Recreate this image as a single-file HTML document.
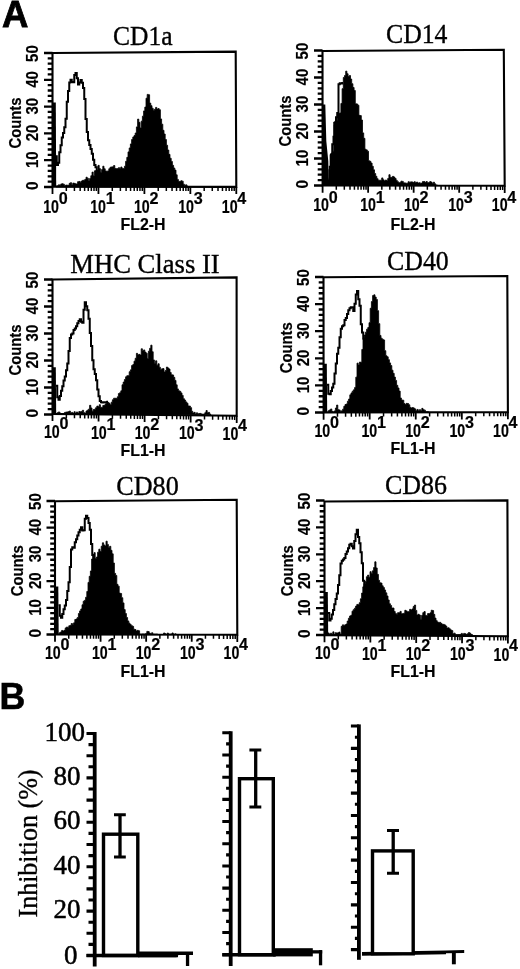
<!DOCTYPE html>
<html lang="en"><head><meta charset="utf-8"><title>Figure</title>
<style>html,body{margin:0;padding:0;background:#fff}svg{display:block}text{fill:#000}.ser{stroke:#000;stroke-width:0.35px}.ser{font-family:"Liberation Serif", "Times New Roman", Times, serif}.san{font-family:"Liberation Sans", Arial, Helvetica, sans-serif}.sb{font-family:"Liberation Sans", Arial, Helvetica, sans-serif;font-weight:bold}.lb{font-family:"Liberation Sans", Arial, Helvetica, sans-serif;font-weight:bold;stroke:#000;stroke-width:0.2px}</style></head><body>
<svg width="520" height="969" viewBox="0 0 520 969">
<rect width="520" height="969" fill="#fff"/>
<text class="sb" x="1.9" y="27.3" font-size="36.6" textLength="26.4" lengthAdjust="spacingAndGlyphs" stroke="#000" stroke-width="0.8">A</text>
<text class="sb" x="-0.6" y="708.8" font-size="36.2" textLength="25.8" lengthAdjust="spacingAndGlyphs" stroke="#000" stroke-width="0.6">B</text>
<g>
<text class="ser" x="113" y="45" font-size="26.5" textLength="59.5" lengthAdjust="spacingAndGlyphs">CD1a</text>
<path d="M56 187L56 186.02L57.2 186.02L57.2 185.75L58.4 185.75L58.4 184.83L59.6 184.83L59.6 185.23L60.8 185.23L60.8 183.96L62 183.96L62 183.76L63.2 183.76L63.2 184.23L64.4 184.23L64.4 185.67L65.6 185.67L65.6 185.06L66.8 185.06L66.8 185.23L68 185.23L68 185.3L69.2 185.3L69.2 183.35L70.4 183.35L70.4 182.69L71.6 182.69L71.6 184.85L72.8 184.85L72.8 183.11L74 183.11L74 183.33L75.2 183.33L75.2 183.84L76.4 183.84L76.4 184.1L77.6 184.1L77.6 181.67L78.8 181.67L78.8 181.44L80 181.44L80 182.13L81.2 182.13L81.2 181.09L82.4 181.09L82.4 180.34L83.6 180.34L83.6 180.18L84.8 180.18L84.8 179.46L86 179.46L86 177.23L87.2 177.23L87.2 178.22L88.4 178.22L88.4 181.05L89.6 181.05L89.6 178.48L90.8 178.48L90.8 175.73L92 175.73L92 172.12L93.2 172.12L93.2 175.63L94.4 175.63L94.4 170.81L95.6 170.81L95.6 170.42L96.8 170.42L96.8 170.64L98 170.64L98 165.35L99.2 165.35L99.2 168.6L100.4 168.6L100.4 173.04L101.6 173.04L101.6 169.51L102.8 169.51L102.8 166.22L104 166.22L104 168.75L105.2 168.75L105.2 170.95L106.4 170.95L106.4 171.21L107.6 171.21L107.6 170.92L108.8 170.92L108.8 168.76L110 168.76L110 167.24L111.2 167.24L111.2 166.94L112.4 166.94L112.4 166.8L113.6 166.8L113.6 165.55L114.8 165.55L114.8 168.59L116 168.59L116 168.63L117.2 168.63L117.2 168.57L118.4 168.57L118.4 167.65L119.6 167.65L119.6 168.45L120.8 168.45L120.8 166.99L122 166.99L122 168.43L123.2 168.43L123.2 168.54L124.4 168.54L124.4 166.22L125.6 166.22L125.6 161.3L126.8 161.3L126.8 157.36L128 157.36L128 151.88L129.2 151.88L129.2 147.96L130.4 147.96L130.4 143.93L131.6 143.93L131.6 139.49L132.8 139.49L132.8 136.98L134 136.98L134 135.57L135.2 135.57L135.2 133L136.4 133L136.4 126.89L137.6 126.89L137.6 119.11L138.8 119.11L138.8 122.33L140 122.33L140 127.99L141.2 127.99L141.2 121.16L142.4 121.16L142.4 116.15L143.6 116.15L143.6 110.9L144.8 110.9L144.8 107.12L146 107.12L146 98.23L147.2 98.23L147.2 94.38L148.4 94.38L148.4 94.72L149.6 94.72L149.6 103.12L150.8 103.12L150.8 105.68L152 105.68L152 108.27L153.2 108.27L153.2 110.18L154.4 110.18L154.4 109.31L155.6 109.31L155.6 107.41L156.8 107.41L156.8 109.11L158 109.11L158 108.62L159.2 108.62L159.2 109.71L160.4 109.71L160.4 118.94L161.6 118.94L161.6 124.16L162.8 124.16L162.8 130.32L164 130.32L164 134.04L165.2 134.04L165.2 139.5L166.4 139.5L166.4 145.22L167.6 145.22L167.6 150.02L168.8 150.02L168.8 154.36L170 154.36L170 158.28L171.2 158.28L171.2 161.45L172.4 161.45L172.4 165.33L173.6 165.33L173.6 168.01L174.8 168.01L174.8 170.12L176 170.12L176 174.82L177.2 174.82L177.2 179.42L178.4 179.42L178.4 181.31L179.6 181.31L179.6 181.59L180.8 181.59L180.8 180.75L182 180.75L182 181.15L183.2 181.15L183.2 184.16L184.4 184.16L184.4 185.44L185.6 185.44L185.6 184.82L186.8 184.82L186.8 186.12L188 186.12L188 186.6L189.2 186.6L189.2 187L190 187L190 187 Z" fill="#000" stroke="#000" stroke-width="0.8" stroke-linejoin="miter"/>
<path d="M55.5 156.25L55.5 156.25L56.75 156.25L56.75 165.07L58 165.07L58 162.65L59.25 162.65L59.25 152.32L60.5 152.32L60.5 145.2L61.75 145.2L61.75 137.48L63 137.48L63 132.89L64.25 132.89L64.25 127.22L65.5 127.22L65.5 118.78L66.75 118.78L66.75 101.72L68 101.72L68 90.91L69.25 90.91L69.25 82.38L70.5 82.38L70.5 79.74L71.75 79.74L71.75 81.88L73 81.88L73 82.19L74.25 82.19L74.25 75.1L75.5 75.1L75.5 72.94L76.75 72.94L76.75 78.36L78 78.36L78 84.49L79.25 84.49L79.25 82.56L80.5 82.56L80.5 80.1L81.75 80.1L81.75 82.82L83 82.82L83 88.03L84.25 88.03L84.25 99.06L85.5 99.06L85.5 119.09L86.75 119.09L86.75 132.12L88 132.12L88 140.19L89.25 140.19L89.25 145.08L90.5 145.08L90.5 149.01L91.75 149.01L91.75 153.76L93 153.76L93 159.68L94.25 159.68L94.25 164.92L95.5 164.92L95.5 167.37L96.75 167.37L96.75 170.7L98 170.7L98 172.14L99.25 172.14L99.25 173.4L100.5 173.4L100.5 174.5L101.75 174.5L101.75 175.42L103 175.42L103 175.75L104.25 175.75L104.25 176.33L105.5 176.33L105.5 176.39L106.75 176.39L106.75 176.57L108 176.57" fill="none" stroke="#000" stroke-width="2" stroke-linejoin="miter"/>
<path d="M52.5 102.58 L55.8 102.58 L56.2 187 L52.5 187 Z" fill="#000"/>
<path d="M52.5 53L235.7 51.6L236.3 186.9L52.5 186.7Z" fill="none" stroke="#000" stroke-width="2.1" stroke-linejoin="miter"/>
<path d="M44 187H52.5M47.7 181.64H52.5M47.7 176.28H52.5M47.7 170.92H52.5M47.7 165.56H52.5M44 160.2H52.5M47.7 154.84H52.5M47.7 149.48H52.5M47.7 144.12H52.5M47.7 138.76H52.5M44 133.4H52.5M47.7 128.04H52.5M47.7 122.68H52.5M47.7 117.32H52.5M47.7 111.96H52.5M44 106.6H52.5M47.7 101.24H52.5M47.7 95.88H52.5M47.7 90.52H52.5M47.7 85.16H52.5M44 79.8H52.5M47.7 74.44H52.5M47.7 69.08H52.5M47.7 63.72H52.5M47.7 58.36H52.5M44 53H52.5" stroke="#000" stroke-width="2.3" fill="none"/>
<path d="M66.33 186.72V190.92M74.42 186.72V190.92M80.16 186.73V190.93M84.62 186.73V190.93M88.26 186.74V190.94M91.33 186.74V190.94M94 186.75V190.95M96.35 186.75V190.95M112.28 186.77V190.97M120.37 186.77V190.97M126.11 186.78V190.98M130.57 186.78V190.98M134.21 186.79V190.99M137.28 186.79V190.99M139.95 186.8V191M142.3 186.8V191M158.23 186.82V191.02M166.32 186.82V191.02M172.06 186.83V191.03M176.52 186.83V191.03M180.16 186.84V191.04M183.23 186.84V191.04M185.9 186.85V191.05M188.25 186.85V191.05M204.18 186.87V191.07M212.27 186.87V191.07M218.01 186.88V191.08M222.47 186.88V191.08M226.11 186.89V191.09M229.18 186.89V191.09M231.85 186.9V191.1M234.2 186.9V191.1" stroke="#000" stroke-width="1.5" fill="none"/>
<path d="M52.5 186.7V193.9M98.45 186.75V193.95M144.4 186.8V194M190.35 186.85V194.05M236.3 186.9V194.1" stroke="#000" stroke-width="1.8" fill="none"/>
<text class="lb" transform="translate(38.4 185.6) rotate(-90)" font-size="16" text-anchor="middle" textLength="8.6" lengthAdjust="spacingAndGlyphs" x="0" y="0">0</text>
<text class="lb" transform="translate(38.4 159.8) rotate(-90)" font-size="16" text-anchor="middle" textLength="16.6" lengthAdjust="spacingAndGlyphs" x="0" y="0">10</text>
<text class="lb" transform="translate(38.4 133) rotate(-90)" font-size="16" text-anchor="middle" textLength="16.6" lengthAdjust="spacingAndGlyphs" x="0" y="0">20</text>
<text class="lb" transform="translate(38.4 106.2) rotate(-90)" font-size="16" text-anchor="middle" textLength="16.6" lengthAdjust="spacingAndGlyphs" x="0" y="0">30</text>
<text class="lb" transform="translate(38.4 79.4) rotate(-90)" font-size="16" text-anchor="middle" textLength="16.6" lengthAdjust="spacingAndGlyphs" x="0" y="0">40</text>
<text class="lb" transform="translate(38.4 53.6) rotate(-90)" font-size="16" text-anchor="middle" textLength="16.6" lengthAdjust="spacingAndGlyphs" x="0" y="0">50</text>
<text class="lb" transform="translate(20.9 123) rotate(-90)" font-size="16.6" text-anchor="middle" textLength="51" lengthAdjust="spacingAndGlyphs" x="0" y="0">Counts</text>
<text class="lb" x="43.15" y="212.9" font-size="17.5" textLength="15.8" lengthAdjust="spacingAndGlyphs">10</text>
<text class="lb" x="58.65" y="204.1" font-size="17" textLength="9" lengthAdjust="spacingAndGlyphs">0</text>
<text class="lb" x="90.15" y="212.95" font-size="17.5" textLength="15.8" lengthAdjust="spacingAndGlyphs">10</text>
<text class="lb" x="105.65" y="204.15" font-size="17" textLength="9" lengthAdjust="spacingAndGlyphs">1</text>
<text class="lb" x="133.9" y="213" font-size="17.5" textLength="15.8" lengthAdjust="spacingAndGlyphs">10</text>
<text class="lb" x="149.4" y="204.2" font-size="17" textLength="9" lengthAdjust="spacingAndGlyphs">2</text>
<text class="lb" x="178.15" y="213.05" font-size="17.5" textLength="15.8" lengthAdjust="spacingAndGlyphs">10</text>
<text class="lb" x="193.65" y="204.25" font-size="17" textLength="9" lengthAdjust="spacingAndGlyphs">3</text>
<text class="lb" x="221.75" y="213.09" font-size="17.5" textLength="15.8" lengthAdjust="spacingAndGlyphs">10</text>
<text class="lb" x="237.25" y="204.29" font-size="17" textLength="9" lengthAdjust="spacingAndGlyphs">4</text>
<text class="lb" x="120.6" y="229.8" font-size="17" textLength="45" lengthAdjust="spacingAndGlyphs">FL2-H</text>
</g>
<g>
<text class="ser" x="386" y="43" font-size="26.5" textLength="61.5" lengthAdjust="spacingAndGlyphs">CD14</text>
<path d="M326.5 185.5L326.5 183.9L327.7 183.9L327.7 179.75L328.9 179.75L328.9 169.4L330.1 169.4L330.1 154.5L331.3 154.5L331.3 153L332.5 153L332.5 151.27L333.7 151.27L333.7 122.06L334.9 122.06L334.9 120.97L336.1 120.97L336.1 120.13L337.3 120.13L337.3 113.16L338.5 113.16L338.5 113.56L339.7 113.56L339.7 112.88L340.9 112.88L340.9 103.45L342.1 103.45L342.1 88.65L343.3 88.65L343.3 77.44L344.5 77.44L344.5 75.51L345.7 75.51L345.7 71.15L346.9 71.15L346.9 73.71L348.1 73.71L348.1 76.52L349.3 76.52L349.3 75.57L350.5 75.57L350.5 79.04L351.7 79.04L351.7 83.71L352.9 83.71L352.9 87.5L354.1 87.5L354.1 90.51L355.3 90.51L355.3 103.74L356.5 103.74L356.5 103.97L357.7 103.97L357.7 105.23L358.9 105.23L358.9 115.35L360.1 115.35L360.1 115.6L361.3 115.6L361.3 120.03L362.5 120.03L362.5 132.89L363.7 132.89L363.7 138.32L364.9 138.32L364.9 149.22L366.1 149.22L366.1 149.89L367.3 149.89L367.3 151.22L368.5 151.22L368.5 160.76L369.7 160.76L369.7 161.34L370.9 161.34L370.9 163.05L372.1 163.05L372.1 166.3L373.3 166.3L373.3 169.82L374.5 169.82L374.5 173.56L375.7 173.56L375.7 176.31L376.9 176.31L376.9 178.66L378.1 178.66L378.1 180.31L379.3 180.31L379.3 180.15L380.5 180.15L380.5 180.25L381.7 180.25L381.7 177.91L382.9 177.91L382.9 179.8L384.1 179.8L384.1 180.89L385.3 180.89L385.3 180L386.5 180L386.5 180.86L387.7 180.86L387.7 178.47L388.9 178.47L388.9 174.69L390.1 174.69L390.1 177.32L391.3 177.32L391.3 177.32L392.5 177.32L392.5 176.37L393.7 176.37L393.7 177.09L394.9 177.09L394.9 178.51L396.1 178.51L396.1 180.4L397.3 180.4L397.3 181.73L398.5 181.73L398.5 182.68L399.7 182.68L399.7 182.48L400.9 182.48L400.9 181.16L402.1 181.16L402.1 181.39L403.3 181.39L403.3 182.82L404.5 182.82L404.5 182.9L405.7 182.9L405.7 183.24L406.9 183.24L406.9 183.28L408.1 183.28L408.1 181.68L409.3 181.68L409.3 182.57L410.5 182.57L410.5 181.87L411.7 181.87L411.7 181.93L412.9 181.93L412.9 182.6L414.1 182.6L414.1 181.69L415.3 181.69L415.3 182.84L416.5 182.84L416.5 182.09L417.7 182.09L417.7 183.12L418.9 183.12L418.9 182.77L420.1 182.77L420.1 183.14L421.3 183.14L421.3 183.05L422.5 183.05L422.5 181.55L423.7 181.55L423.7 181.57L424.9 181.57L424.9 182.58L426.1 182.58L426.1 181.55L427.3 181.55L427.3 182.71L428.5 182.71L428.5 182.54L429.7 182.54L429.7 181.59L430.9 181.59L430.9 182.1L432.1 182.1L432.1 183.54L433.3 183.54L433.3 182.19L434.5 182.19L434.5 183.81L435.7 183.81L435.7 185.03L436.9 185.03L436.9 185.05L437.5 185.05L437.5 185.5 Z" fill="#000" stroke="#000" stroke-width="0.8" stroke-linejoin="miter"/>
<path d="M328.5 178.66L328.5 178.66L329.75 178.66L329.75 166.67L331 166.67L331 154.42L332.25 154.42L332.25 144.26L333.5 144.26L333.5 136.73L334.75 136.73L334.75 126.12L336 126.12L336 117.17L337.25 117.17L337.25 113.01L338.5 113.01L338.5 84.37L339.75 84.37L339.75 83.35L341 83.35L341 83.59L342.25 83.59L342.25 82.93L343 82.93" fill="none" stroke="#000" stroke-width="2" stroke-linejoin="miter"/>
<path d="M322.5 104.5 L325.3 104.5 L326.3 140.95 L328.3 161.2 L328.7 185.5 L322.5 185.5 Z" fill="#000"/>
<path d="M322.5 51L503.8 49.8L504.7 185.7L322.6 185.5Z" fill="none" stroke="#000" stroke-width="2.1" stroke-linejoin="miter"/>
<path d="M314 185.5H322.5M317.7 180.1H322.5M317.7 174.7H322.5M317.7 169.3H322.5M317.7 163.9H322.5M314 158.5H322.5M317.7 153.1H322.5M317.7 147.7H322.5M317.7 142.3H322.5M317.7 136.9H322.5M314 131.5H322.5M317.7 126.1H322.5M317.7 120.7H322.5M317.7 115.3H322.5M317.7 109.9H322.5M314 104.5H322.5M317.7 99.1H322.5M317.7 93.7H322.5M317.7 88.3H322.5M317.7 82.9H322.5M314 77.5H322.5M317.7 72.1H322.5M317.7 66.7H322.5M317.7 61.3H322.5M317.7 55.9H322.5M314 50.5H322.5" stroke="#000" stroke-width="2.3" fill="none"/>
<path d="M336.3 185.52V189.72M344.32 185.52V189.72M350.01 185.53V189.73M354.42 185.53V189.73M358.03 185.54V189.74M361.07 185.54V189.74M363.71 185.55V189.75M366.04 185.55V189.75M381.83 185.57V189.77M389.85 185.57V189.77M395.53 185.58V189.78M399.95 185.58V189.78M403.55 185.59V189.79M406.6 185.59V189.79M409.24 185.6V189.8M411.57 185.6V189.8M427.35 185.62V189.82M435.37 185.62V189.82M441.06 185.63V189.83M445.47 185.63V189.83M449.08 185.64V189.84M452.12 185.64V189.84M454.76 185.65V189.85M457.09 185.65V189.85M472.88 185.67V189.87M480.9 185.67V189.87M486.58 185.68V189.88M491 185.68V189.88M494.6 185.69V189.89M497.65 185.69V189.89M500.29 185.7V189.9M502.62 185.7V189.9" stroke="#000" stroke-width="1.5" fill="none"/>
<path d="M322.6 185.5V192.7M368.12 185.55V192.75M413.65 185.6V192.8M459.18 185.65V192.85M504.7 185.7V192.9" stroke="#000" stroke-width="1.8" fill="none"/>
<text class="lb" transform="translate(308.4 184.1) rotate(-90)" font-size="16" text-anchor="middle" textLength="8.6" lengthAdjust="spacingAndGlyphs" x="0" y="0">0</text>
<text class="lb" transform="translate(308.4 158.1) rotate(-90)" font-size="16" text-anchor="middle" textLength="16.6" lengthAdjust="spacingAndGlyphs" x="0" y="0">10</text>
<text class="lb" transform="translate(308.4 131.1) rotate(-90)" font-size="16" text-anchor="middle" textLength="16.6" lengthAdjust="spacingAndGlyphs" x="0" y="0">20</text>
<text class="lb" transform="translate(308.4 104.1) rotate(-90)" font-size="16" text-anchor="middle" textLength="16.6" lengthAdjust="spacingAndGlyphs" x="0" y="0">30</text>
<text class="lb" transform="translate(308.4 77.1) rotate(-90)" font-size="16" text-anchor="middle" textLength="16.6" lengthAdjust="spacingAndGlyphs" x="0" y="0">40</text>
<text class="lb" transform="translate(308.4 51.1) rotate(-90)" font-size="16" text-anchor="middle" textLength="16.6" lengthAdjust="spacingAndGlyphs" x="0" y="0">50</text>
<text class="lb" transform="translate(290.9 121) rotate(-90)" font-size="16.6" text-anchor="middle" textLength="51" lengthAdjust="spacingAndGlyphs" x="0" y="0">Counts</text>
<text class="lb" x="313.15" y="210.7" font-size="17.5" textLength="15.8" lengthAdjust="spacingAndGlyphs">10</text>
<text class="lb" x="328.65" y="202.8" font-size="17" textLength="9" lengthAdjust="spacingAndGlyphs">0</text>
<text class="lb" x="360.15" y="210.75" font-size="17.5" textLength="15.8" lengthAdjust="spacingAndGlyphs">10</text>
<text class="lb" x="375.65" y="202.85" font-size="17" textLength="9" lengthAdjust="spacingAndGlyphs">1</text>
<text class="lb" x="403.9" y="210.8" font-size="17.5" textLength="15.8" lengthAdjust="spacingAndGlyphs">10</text>
<text class="lb" x="419.4" y="202.9" font-size="17" textLength="9" lengthAdjust="spacingAndGlyphs">2</text>
<text class="lb" x="448.15" y="210.85" font-size="17.5" textLength="15.8" lengthAdjust="spacingAndGlyphs">10</text>
<text class="lb" x="463.65" y="202.95" font-size="17" textLength="9" lengthAdjust="spacingAndGlyphs">3</text>
<text class="lb" x="491.75" y="210.9" font-size="17.5" textLength="15.8" lengthAdjust="spacingAndGlyphs">10</text>
<text class="lb" x="507.25" y="203" font-size="17" textLength="9" lengthAdjust="spacingAndGlyphs">4</text>
<text class="lb" x="390.6" y="229.6" font-size="17" textLength="45" lengthAdjust="spacingAndGlyphs">FL2-H</text>
</g>
<g>
<text class="ser" x="70.3" y="273.4" font-size="26.5" textLength="149.4" lengthAdjust="spacingAndGlyphs">MHC Class II</text>
<path d="M56 414.5L56 413.77L57.2 413.77L57.2 412.66L58.4 412.66L58.4 411.93L59.6 411.93L59.6 412.99L60.8 412.99L60.8 414.1L62 414.1L62 413.65L63.2 413.65L63.2 414.1L64.4 414.1L64.4 412.43L65.6 412.43L65.6 412.07L66.8 412.07L66.8 411.94L68 411.94L68 411.71L69.2 411.71L69.2 411.05L70.4 411.05L70.4 412.67L71.6 412.67L71.6 412.41L72.8 412.41L72.8 413.39L74 413.39L74 411.69L75.2 411.69L75.2 414.03L76.4 414.03L76.4 411.96L77.6 411.96L77.6 413.35L78.8 413.35L78.8 411.55L80 411.55L80 411.87L81.2 411.87L81.2 411.42L82.4 411.42L82.4 410.29L83.6 410.29L83.6 412.64L84.8 412.64L84.8 413.19L86 413.19L86 411.03L87.2 411.03L87.2 410.2L88.4 410.2L88.4 409.14L89.6 409.14L89.6 405.32L90.8 405.32L90.8 407.98L92 407.98L92 411.21L93.2 411.21L93.2 409.58L94.4 409.58L94.4 409.13L95.6 409.13L95.6 407.67L96.8 407.67L96.8 406.1L98 406.1L98 406.63L99.2 406.63L99.2 404.72L100.4 404.72L100.4 407.22L101.6 407.22L101.6 407.55L102.8 407.55L102.8 405.45L104 405.45L104 405.35L105.2 405.35L105.2 403.86L106.4 403.86L106.4 401.78L107.6 401.78L107.6 402.47L108.8 402.47L108.8 403.24L110 403.24L110 404.77L111.2 404.77L111.2 402.2L112.4 402.2L112.4 399.75L113.6 399.75L113.6 398.21L114.8 398.21L114.8 398.26L116 398.26L116 398.52L117.2 398.52L117.2 396.84L118.4 396.84L118.4 393.54L119.6 393.54L119.6 392.74L120.8 392.74L120.8 390.82L122 390.82L122 384.78L123.2 384.78L123.2 382.05L124.4 382.05L124.4 379.47L125.6 379.47L125.6 376.81L126.8 376.81L126.8 375.7L128 375.7L128 375.69L129.2 375.69L129.2 371.7L130.4 371.7L130.4 369.85L131.6 369.85L131.6 365.53L132.8 365.53L132.8 364.55L134 364.55L134 361.16L135.2 361.16L135.2 358.25L136.4 358.25L136.4 353.35L137.6 353.35L137.6 354.82L138.8 354.82L138.8 354.36L140 354.36L140 355.12L141.2 355.12L141.2 348.79L142.4 348.79L142.4 350.68L143.6 350.68L143.6 349.93L144.8 349.93L144.8 352.1L146 352.1L146 353.21L147.2 353.21L147.2 358.44L148.4 358.44L148.4 351.14L149.6 351.14L149.6 348.32L150.8 348.32L150.8 345.17L152 345.17L152 351.74L153.2 351.74L153.2 359.93L154.4 359.93L154.4 363.26L155.6 363.26L155.6 360.8L156.8 360.8L156.8 365.23L158 365.23L158 363.75L159.2 363.75L159.2 367.24L160.4 367.24L160.4 369.83L161.6 369.83L161.6 368.77L162.8 368.77L162.8 368.62L164 368.62L164 372.11L165.2 372.11L165.2 370.56L166.4 370.56L166.4 367.07L167.6 367.07L167.6 367.93L168.8 367.93L168.8 369.06L170 369.06L170 372.53L171.2 372.53L171.2 374.71L172.4 374.71L172.4 374.98L173.6 374.98L173.6 377.35L174.8 377.35L174.8 380.41L176 380.41L176 384.85L177.2 384.85L177.2 388.9L178.4 388.9L178.4 390.77L179.6 390.77L179.6 391.33L180.8 391.33L180.8 392.91L182 392.91L182 395.38L183.2 395.38L183.2 398.66L184.4 398.66L184.4 400.05L185.6 400.05L185.6 401.88L186.8 401.88L186.8 403.25L188 403.25L188 406.01L189.2 406.01L189.2 406.04L190.4 406.04L190.4 407.63L191.6 407.63L191.6 411.3L192.8 411.3L192.8 412.94L194 412.94L194 412.37L195.2 412.37L195.2 414.1L196.4 414.1L196.4 412.84L197.6 412.84L197.6 413.78L198.8 413.78L198.8 413.48L200 413.48L200 413.42L201.2 413.42L201.2 414.1L202.4 414.1L202.4 414.1L203.6 414.1L203.6 414.1L204.8 414.1L204.8 412.69L206 412.69L206 410.54L207.2 410.54L207.2 412.77L208.4 412.77L208.4 412.37L209.6 412.37L209.6 414.06L210.8 414.06L210.8 414.5L211 414.5L211 414.5 Z" fill="#000" stroke="#000" stroke-width="0.8" stroke-linejoin="miter"/>
<path d="M56 385.64L56 385.64L57.25 385.64L57.25 397.25L58.5 397.25L58.5 399.63L59.75 399.63L59.75 395.93L61 395.93L61 390.82L62.25 390.82L62.25 386.16L63.5 386.16L63.5 380.44L64.75 380.44L64.75 376.4L66 376.4L66 370.23L67.25 370.23L67.25 363.62L68.5 363.62L68.5 351.06L69.75 351.06L69.75 337.92L71 337.92L71 334.47L72.25 334.47L72.25 333.58L73.5 333.58L73.5 330.09L74.75 330.09L74.75 328.61L76 328.61L76 326.19L77.25 326.19L77.25 323.37L78.5 323.37L78.5 320.93L79.75 320.93L79.75 319.29L81 319.29L81 321.7L82.25 321.7L82.25 322.65L83.5 322.65L83.5 309.85L84.75 309.85L84.75 302.14L86 302.14L86 306.3L87.25 306.3L87.25 310.27L88.5 310.27L88.5 318.8L89.75 318.8L89.75 333.08L91 333.08L91 346.01L92.25 346.01L92.25 360.22L93.5 360.22L93.5 369.14L94.75 369.14L94.75 373.88L96 373.88L96 380.15L97.25 380.15L97.25 389.51L98.5 389.51L98.5 396.23L99.75 396.23L99.75 401.09L101 401.09L101 402.29L102.25 402.29L102.25 402.42L103.5 402.42L103.5 402.36L104.75 402.36L104.75 402.35L106 402.35L106 402.3L107.25 402.3L107.25 401.82L108 401.82" fill="none" stroke="#000" stroke-width="2" stroke-linejoin="miter"/>
<path d="M52.5 367.25 L55.8 367.25 L56.2 414.5 L52.5 414.5 Z" fill="#000"/>
<path d="M52.5 279.5L236.6 277.4L236.7 415.7L52.5 413.9Z" fill="none" stroke="#000" stroke-width="2.1" stroke-linejoin="miter"/>
<path d="M44 414.5H52.5M47.7 409.1H52.5M47.7 403.7H52.5M47.7 398.3H52.5M47.7 392.9H52.5M44 387.5H52.5M47.7 382.1H52.5M47.7 376.7H52.5M47.7 371.3H52.5M47.7 365.9H52.5M44 360.5H52.5M47.7 355.1H52.5M47.7 349.7H52.5M47.7 344.3H52.5M47.7 338.9H52.5M44 333.5H52.5M47.7 328.1H52.5M47.7 322.7H52.5M47.7 317.3H52.5M47.7 311.9H52.5M44 306.5H52.5M47.7 301.1H52.5M47.7 295.7H52.5M47.7 290.3H52.5M47.7 284.9H52.5M44 279.5H52.5" stroke="#000" stroke-width="2.3" fill="none"/>
<path d="M66.36 414.04V418.24M74.47 414.11V418.31M80.22 414.17V418.37M84.69 414.21V418.41M88.33 414.25V418.45M91.42 414.28V418.48M94.09 414.31V418.51M96.44 414.33V418.53M112.41 414.49V418.69M120.52 414.56V418.76M126.27 414.62V418.82M130.74 414.66V418.86M134.38 414.7V418.9M137.47 414.73V418.93M140.14 414.76V418.96M142.49 414.78V418.98M158.46 414.94V419.14M166.57 415.01V419.21M172.32 415.07V419.27M176.79 415.11V419.31M180.43 415.15V419.35M183.52 415.18V419.38M186.19 415.21V419.41M188.54 415.23V419.43M204.51 415.39V419.59M212.62 415.46V419.66M218.37 415.52V419.72M222.84 415.56V419.76M226.48 415.6V419.8M229.57 415.63V419.83M232.24 415.66V419.86M234.59 415.68V419.88" stroke="#000" stroke-width="1.5" fill="none"/>
<path d="M52.5 413.9V421.1M98.55 414.35V421.55M144.6 414.8V422M190.65 415.25V422.45M236.7 415.7V422.9" stroke="#000" stroke-width="1.8" fill="none"/>
<text class="lb" transform="translate(38.4 413.1) rotate(-90)" font-size="16" text-anchor="middle" textLength="8.6" lengthAdjust="spacingAndGlyphs" x="0" y="0">0</text>
<text class="lb" transform="translate(38.4 387.1) rotate(-90)" font-size="16" text-anchor="middle" textLength="16.6" lengthAdjust="spacingAndGlyphs" x="0" y="0">10</text>
<text class="lb" transform="translate(38.4 360.1) rotate(-90)" font-size="16" text-anchor="middle" textLength="16.6" lengthAdjust="spacingAndGlyphs" x="0" y="0">20</text>
<text class="lb" transform="translate(38.4 333.1) rotate(-90)" font-size="16" text-anchor="middle" textLength="16.6" lengthAdjust="spacingAndGlyphs" x="0" y="0">30</text>
<text class="lb" transform="translate(38.4 306.1) rotate(-90)" font-size="16" text-anchor="middle" textLength="16.6" lengthAdjust="spacingAndGlyphs" x="0" y="0">40</text>
<text class="lb" transform="translate(38.4 280.1) rotate(-90)" font-size="16" text-anchor="middle" textLength="16.6" lengthAdjust="spacingAndGlyphs" x="0" y="0">50</text>
<text class="lb" transform="translate(20.9 350) rotate(-90)" font-size="16.6" text-anchor="middle" textLength="51" lengthAdjust="spacingAndGlyphs" x="0" y="0">Counts</text>
<text class="lb" x="43.9" y="438.1" font-size="17.5" textLength="15.8" lengthAdjust="spacingAndGlyphs">10</text>
<text class="lb" x="59.4" y="429.3" font-size="17" textLength="9" lengthAdjust="spacingAndGlyphs">0</text>
<text class="lb" x="90.9" y="438.56" font-size="17.5" textLength="15.8" lengthAdjust="spacingAndGlyphs">10</text>
<text class="lb" x="106.4" y="429.76" font-size="17" textLength="9" lengthAdjust="spacingAndGlyphs">1</text>
<text class="lb" x="134.65" y="438.99" font-size="17.5" textLength="15.8" lengthAdjust="spacingAndGlyphs">10</text>
<text class="lb" x="150.15" y="430.19" font-size="17" textLength="9" lengthAdjust="spacingAndGlyphs">2</text>
<text class="lb" x="178.9" y="439.42" font-size="17.5" textLength="15.8" lengthAdjust="spacingAndGlyphs">10</text>
<text class="lb" x="194.4" y="430.62" font-size="17" textLength="9" lengthAdjust="spacingAndGlyphs">3</text>
<text class="lb" x="222.5" y="439.85" font-size="17.5" textLength="15.8" lengthAdjust="spacingAndGlyphs">10</text>
<text class="lb" x="238" y="431.05" font-size="17" textLength="9" lengthAdjust="spacingAndGlyphs">4</text>
<text class="lb" x="120.6" y="456.16" font-size="17" textLength="45" lengthAdjust="spacingAndGlyphs">FL1-H</text>
</g>
<g>
<text class="ser" x="387" y="270" font-size="26.5" textLength="61.75" lengthAdjust="spacingAndGlyphs">CD40</text>
<path d="M327 412.5L327 412.1L328.2 412.1L328.2 410.71L329.4 410.71L329.4 409.89L330.6 409.89L330.6 408.97L331.8 408.97L331.8 411.38L333 411.38L333 412.1L334.2 412.1L334.2 410.9L335.4 410.9L335.4 408.03L336.6 408.03L336.6 405.07L337.8 405.07L337.8 409.7L339 409.7L339 409.98L340.2 409.98L340.2 411.68L341.4 411.68L341.4 410.76L342.6 410.76L342.6 409.15L343.8 409.15L343.8 406.34L345 406.34L345 404.49L346.2 404.49L346.2 403.95L347.4 403.95L347.4 401.16L348.6 401.16L348.6 399.05L349.8 399.05L349.8 394.85L351 394.85L351 392.93L352.2 392.93L352.2 391.19L353.4 391.19L353.4 389.84L354.6 389.84L354.6 387.46L355.8 387.46L355.8 377.14L357 377.14L357 363.14L358.2 363.14L358.2 365.11L359.4 365.11L359.4 362.08L360.6 362.08L360.6 362.3L361.8 362.3L361.8 349.44L363 349.44L363 338.62L364.2 338.62L364.2 335.08L365.4 335.08L365.4 332.14L366.6 332.14L366.6 329.18L367.8 329.18L367.8 327.48L369 327.48L369 322.69L370.2 322.69L370.2 308.26L371.4 308.26L371.4 301.58L372.6 301.58L372.6 295.54L373.8 295.54L373.8 294.84L375 294.84L375 297.04L376.2 297.04L376.2 299.43L377.4 299.43L377.4 310.63L378.6 310.63L378.6 323.63L379.8 323.63L379.8 335.45L381 335.45L381 338.23L382.2 338.23L382.2 339.33L383.4 339.33L383.4 339.95L384.6 339.95L384.6 350.68L385.8 350.68L385.8 355.76L387 355.76L387 356.85L388.2 356.85L388.2 359.64L389.4 359.64L389.4 362.91L390.6 362.91L390.6 365.59L391.8 365.59L391.8 370.2L393 370.2L393 373.36L394.2 373.36L394.2 377.1L395.4 377.1L395.4 380.4L396.6 380.4L396.6 385.3L397.8 385.3L397.8 387.98L399 387.98L399 391.12L400.2 391.12L400.2 397.99L401.4 397.99L401.4 399.98L402.6 399.98L402.6 400.19L403.8 400.19L403.8 403.56L405 403.56L405 404.56L406.2 404.56L406.2 403.33L407.4 403.33L407.4 403.5L408.6 403.5L408.6 404.79L409.8 404.79L409.8 407.38L411 407.38L411 408.05L412.2 408.05L412.2 407.56L413.4 407.56L413.4 408.03L414.6 408.03L414.6 408.89L415.8 408.89L415.8 410.8L417 410.8L417 409.43L418.2 409.43L418.2 410.66L419.4 410.66L419.4 409.63L420.6 409.63L420.6 410.8L421.8 410.8L421.8 408.36L423 408.36L423 409.63L424.2 409.63L424.2 410.13L425.4 410.13L425.4 412.08L426.6 412.08L426.6 411.68L427.8 411.68L427.8 411.91L429 411.91L429 412.5L430 412.5L430 412.5 Z" fill="#000" stroke="#000" stroke-width="0.8" stroke-linejoin="miter"/>
<path d="M327 384.85L327 384.85L328.25 384.85L328.25 393.72L329.5 393.72L329.5 394.31L330.75 394.31L330.75 391.02L332 391.02L332 387.38L333.25 387.38L333.25 383.85L334.5 383.85L334.5 373.6L335.75 373.6L335.75 363.53L337 363.53L337 353.83L338.25 353.83L338.25 347.75L339.5 347.75L339.5 337.37L340.75 337.37L340.75 328.75L342 328.75L342 326.3L343.25 326.3L343.25 325.22L344.5 325.22L344.5 319.96L345.75 319.96L345.75 318.01L347 318.01L347 314.06L348.25 314.06L348.25 310.13L349.5 310.13L349.5 308.17L350.75 308.17L350.75 307.17L352 307.17L352 307.28L353.25 307.28L353.25 311.01L354.5 311.01L354.5 303.68L355.75 303.68L355.75 294.43L357 294.43L357 290.96L358.25 290.96L358.25 299.2L359.5 299.2L359.5 305.69L360.75 305.69L360.75 324.18L362 324.18L362 332.59L363.25 332.59L363.25 338.61L364.5 338.61L364.5 412.5L365 412.5" fill="none" stroke="#000" stroke-width="2" stroke-linejoin="miter"/>
<path d="M323.5 363.72 L326.8 363.72 L327.2 412.5 L323.5 412.5 Z" fill="#000"/>
<path d="M323.5 277.3L507.3 276L507.9 412.1L323.6 412.5Z" fill="none" stroke="#000" stroke-width="2.1" stroke-linejoin="miter"/>
<path d="M315 412.5H323.5M318.7 407.08H323.5M318.7 401.66H323.5M318.7 396.24H323.5M318.7 390.82H323.5M315 385.4H323.5M318.7 379.98H323.5M318.7 374.56H323.5M318.7 369.14H323.5M318.7 363.72H323.5M315 358.3H323.5M318.7 352.88H323.5M318.7 347.46H323.5M318.7 342.04H323.5M318.7 336.62H323.5M315 331.2H323.5M318.7 325.78H323.5M318.7 320.36H323.5M318.7 314.94H323.5M318.7 309.52H323.5M315 304.1H323.5M318.7 298.68H323.5M318.7 293.26H323.5M318.7 287.84H323.5M318.7 282.42H323.5M315 277H323.5" stroke="#000" stroke-width="2.3" fill="none"/>
<path d="M337.47 412.47V416.67M345.58 412.45V416.65M351.34 412.44V416.64M355.81 412.43V416.63M359.45 412.42V416.62M362.54 412.42V416.62M365.21 412.41V416.61M367.57 412.4V416.6M383.54 412.37V416.57M391.66 412.35V416.55M397.41 412.34V416.54M401.88 412.33V416.53M405.53 412.32V416.52M408.61 412.32V416.52M411.28 412.31V416.51M413.64 412.3V416.5M429.62 412.27V416.47M437.73 412.25V416.45M443.49 412.24V416.44M447.96 412.23V416.43M451.6 412.22V416.42M454.69 412.22V416.42M457.36 412.21V416.41M459.72 412.2V416.4M475.69 412.17V416.37M483.81 412.15V416.35M489.56 412.14V416.34M494.03 412.13V416.33M497.68 412.12V416.32M500.76 412.12V416.32M503.43 412.11V416.31M505.79 412.1V416.3" stroke="#000" stroke-width="1.5" fill="none"/>
<path d="M323.6 412.5V419.7M369.68 412.4V419.6M415.75 412.3V419.5M461.82 412.2V419.4M507.9 412.1V419.3" stroke="#000" stroke-width="1.8" fill="none"/>
<text class="lb" transform="translate(309.4 411.1) rotate(-90)" font-size="16" text-anchor="middle" textLength="8.6" lengthAdjust="spacingAndGlyphs" x="0" y="0">0</text>
<text class="lb" transform="translate(309.4 385) rotate(-90)" font-size="16" text-anchor="middle" textLength="16.6" lengthAdjust="spacingAndGlyphs" x="0" y="0">10</text>
<text class="lb" transform="translate(309.4 357.9) rotate(-90)" font-size="16" text-anchor="middle" textLength="16.6" lengthAdjust="spacingAndGlyphs" x="0" y="0">20</text>
<text class="lb" transform="translate(309.4 330.8) rotate(-90)" font-size="16" text-anchor="middle" textLength="16.6" lengthAdjust="spacingAndGlyphs" x="0" y="0">30</text>
<text class="lb" transform="translate(309.4 303.7) rotate(-90)" font-size="16" text-anchor="middle" textLength="16.6" lengthAdjust="spacingAndGlyphs" x="0" y="0">40</text>
<text class="lb" transform="translate(309.4 277.6) rotate(-90)" font-size="16" text-anchor="middle" textLength="16.6" lengthAdjust="spacingAndGlyphs" x="0" y="0">50</text>
<text class="lb" transform="translate(291.9 347.75) rotate(-90)" font-size="16.6" text-anchor="middle" textLength="51" lengthAdjust="spacingAndGlyphs" x="0" y="0">Counts</text>
<text class="lb" x="314.4" y="437.1" font-size="17.5" textLength="15.8" lengthAdjust="spacingAndGlyphs">10</text>
<text class="lb" x="329.9" y="428.4" font-size="17" textLength="9" lengthAdjust="spacingAndGlyphs">0</text>
<text class="lb" x="361.4" y="437" font-size="17.5" textLength="15.8" lengthAdjust="spacingAndGlyphs">10</text>
<text class="lb" x="376.9" y="428.3" font-size="17" textLength="9" lengthAdjust="spacingAndGlyphs">1</text>
<text class="lb" x="405.15" y="436.9" font-size="17.5" textLength="15.8" lengthAdjust="spacingAndGlyphs">10</text>
<text class="lb" x="420.65" y="428.2" font-size="17" textLength="9" lengthAdjust="spacingAndGlyphs">2</text>
<text class="lb" x="449.4" y="436.81" font-size="17.5" textLength="15.8" lengthAdjust="spacingAndGlyphs">10</text>
<text class="lb" x="464.9" y="428.11" font-size="17" textLength="9" lengthAdjust="spacingAndGlyphs">3</text>
<text class="lb" x="493" y="436.71" font-size="17.5" textLength="15.8" lengthAdjust="spacingAndGlyphs">10</text>
<text class="lb" x="508.5" y="428.01" font-size="17" textLength="9" lengthAdjust="spacingAndGlyphs">4</text>
<text class="lb" x="390.6" y="453.91" font-size="17" textLength="45" lengthAdjust="spacingAndGlyphs">FL1-H</text>
</g>
<g>
<text class="ser" x="116.25" y="495" font-size="26.5" textLength="62.5" lengthAdjust="spacingAndGlyphs">CD80</text>
<path d="M58 634.5L58 634.1L59.2 634.1L59.2 632.74L60.4 632.74L60.4 631.99L61.6 631.99L61.6 630.44L62.8 630.44L62.8 631.07L64 631.07L64 630.33L65.2 630.33L65.2 627.91L66.4 627.91L66.4 627.03L67.6 627.03L67.6 627.39L68.8 627.39L68.8 625.75L70 625.75L70 625.45L71.2 625.45L71.2 623.54L72.4 623.54L72.4 624.15L73.6 624.15L73.6 622.87L74.8 622.87L74.8 619.48L76 619.48L76 618.98L77.2 618.98L77.2 617.57L78.4 617.57L78.4 613.47L79.6 613.47L79.6 610.91L80.8 610.91L80.8 608.98L82 608.98L82 604.78L83.2 604.78L83.2 601.24L84.4 601.24L84.4 600.31L85.6 600.31L85.6 597.25L86.8 597.25L86.8 591.48L88 591.48L88 582.4L89.2 582.4L89.2 576.31L90.4 576.31L90.4 570.96L91.6 570.96L91.6 559.01L92.8 559.01L92.8 555.62L94 555.62L94 552.64L95.2 552.64L95.2 558.51L96.4 558.51L96.4 557.03L97.6 557.03L97.6 552.21L98.8 552.21L98.8 549.2L100 549.2L100 551.56L101.2 551.56L101.2 546.21L102.4 546.21L102.4 542.8L103.6 542.8L103.6 544.93L104.8 544.93L104.8 545.97L106 545.97L106 541.19L107.2 541.19L107.2 544.4L108.4 544.4L108.4 547.51L109.6 547.51L109.6 546.31L110.8 546.31L110.8 550.32L112 550.32L112 553.84L113.2 553.84L113.2 562.99L114.4 562.99L114.4 573.37L115.6 573.37L115.6 575.43L116.8 575.43L116.8 584.33L118 584.33L118 586.15L119.2 586.15L119.2 593.1L120.4 593.1L120.4 593.48L121.6 593.48L121.6 597.71L122.8 597.71L122.8 602.9L124 602.9L124 609.6L125.2 609.6L125.2 613.5L126.4 613.5L126.4 617.53L127.6 617.53L127.6 620.92L128.8 620.92L128.8 623.13L130 623.13L130 624.54L131.2 624.54L131.2 625.63L132.4 625.63L132.4 626.36L133.6 626.36L133.6 629.16L134.8 629.16L134.8 629.62L136 629.62L136 631.1L137.2 631.1L137.2 630.35L138.4 630.35L138.4 630.76L139.6 630.76L139.6 634.06L140.8 634.06L140.8 634.1L142 634.1L142 633.95L143.2 633.95L143.2 633.91L144.4 633.91L144.4 634.1L145.6 634.1L145.6 633.49L146.8 633.49L146.8 631.38L148 631.38L148 631.59L149.2 631.59L149.2 633.1L150.4 633.1L150.4 633.89L151.6 633.89L151.6 632.75L152.8 632.75L152.8 634.1L154 634.1L154 634.1L155.2 634.1L155.2 634.1L156.4 634.1L156.4 634.01L157.6 634.01L157.6 634.5L158.8 634.5L158.8 634.5L160 634.5L160 634.5L161.2 634.5L161.2 634.5L162.4 634.5L162.4 634.5L163.6 634.5L163.6 632.97L164.8 632.97L164.8 633.71L166 633.71L166 634.5L167.2 634.5L167.2 633.05L168.4 633.05L168.4 634.1L169.6 634.1L169.6 634.1L170.8 634.1L170.8 634.09L172 634.09L172 632.94L173.2 632.94L173.2 634.1L174.4 634.1L174.4 634.1L175.6 634.1L175.6 633.63L176 633.63L176 634.5 Z" fill="#000" stroke="#000" stroke-width="0.8" stroke-linejoin="miter"/>
<path d="M58.5 605.3L58.5 605.3L59.75 605.3L59.75 615.86L61 615.86L61 617.83L62.25 617.83L62.25 613.97L63.5 613.97L63.5 609.26L64.75 609.26L64.75 605.56L66 605.56L66 599.96L67.25 599.96L67.25 591.01L68.5 591.01L68.5 582.22L69.75 582.22L69.75 567.06L71 567.06L71 549.62L72.25 549.62L72.25 547.2L73.5 547.2L73.5 547.66L74.75 547.66L74.75 542.3L76 542.3L76 539.3L77.25 539.3L77.25 535.46L78.5 535.46L78.5 532.18L79.75 532.18L79.75 529.69L81 529.69L81 527.35L82.25 527.35L82.25 530.58L83.5 530.58L83.5 530.28L84.75 530.28L84.75 518.86L86 518.86L86 515.86L87.25 515.86L87.25 517.9L88.5 517.9L88.5 523.05L89.75 523.05L89.75 529.7L91 529.7L91 543.93L92.25 543.93L92.25 554.99L93.5 554.99L93.5 634.5L94 634.5" fill="none" stroke="#000" stroke-width="2" stroke-linejoin="miter"/>
<path d="M55 586.44 L58.3 586.44 L58.7 634.5 L55 634.5 Z" fill="#000"/>
<path d="M55 501.3L236.7 499.8L237.3 634.7L55 634.5Z" fill="none" stroke="#000" stroke-width="2.1" stroke-linejoin="miter"/>
<path d="M46.5 634.5H55M50.2 629.16H55M50.2 623.82H55M50.2 618.48H55M50.2 613.14H55M46.5 607.8H55M50.2 602.46H55M50.2 597.12H55M50.2 591.78H55M50.2 586.44H55M46.5 581.1H55M50.2 575.76H55M50.2 570.42H55M50.2 565.08H55M50.2 559.74H55M46.5 554.4H55M50.2 549.06H55M50.2 543.72H55M50.2 538.38H55M50.2 533.04H55M46.5 527.7H55M50.2 522.36H55M50.2 517.02H55M50.2 511.68H55M50.2 506.34H55M46.5 501H55" stroke="#000" stroke-width="2.3" fill="none"/>
<path d="M68.72 634.52V638.72M76.74 634.52V638.72M82.44 634.53V638.73M86.86 634.53V638.73M90.46 634.54V638.74M93.52 634.54V638.74M96.16 634.55V638.75M98.49 634.55V638.75M114.29 634.57V638.77M122.32 634.57V638.77M128.01 634.58V638.78M132.43 634.58V638.78M136.04 634.59V638.79M139.09 634.59V638.79M141.73 634.6V638.8M144.06 634.6V638.8M159.87 634.62V638.82M167.89 634.62V638.82M173.59 634.63V638.83M178.01 634.63V638.83M181.61 634.64V638.84M184.67 634.64V638.84M187.31 634.65V638.85M189.64 634.65V638.85M205.44 634.67V638.87M213.47 634.67V638.87M219.16 634.68V638.88M223.58 634.68V638.88M227.19 634.69V638.89M230.24 634.69V638.89M232.88 634.7V638.9M235.21 634.7V638.9" stroke="#000" stroke-width="1.5" fill="none"/>
<path d="M55 634.5V641.7M100.58 634.55V641.75M146.15 634.6V641.8M191.73 634.65V641.85M237.3 634.7V641.9" stroke="#000" stroke-width="1.8" fill="none"/>
<text class="lb" transform="translate(40.9 633.1) rotate(-90)" font-size="16" text-anchor="middle" textLength="8.6" lengthAdjust="spacingAndGlyphs" x="0" y="0">0</text>
<text class="lb" transform="translate(40.9 607.4) rotate(-90)" font-size="16" text-anchor="middle" textLength="16.6" lengthAdjust="spacingAndGlyphs" x="0" y="0">10</text>
<text class="lb" transform="translate(40.9 580.7) rotate(-90)" font-size="16" text-anchor="middle" textLength="16.6" lengthAdjust="spacingAndGlyphs" x="0" y="0">20</text>
<text class="lb" transform="translate(40.9 554) rotate(-90)" font-size="16" text-anchor="middle" textLength="16.6" lengthAdjust="spacingAndGlyphs" x="0" y="0">30</text>
<text class="lb" transform="translate(40.9 527.3) rotate(-90)" font-size="16" text-anchor="middle" textLength="16.6" lengthAdjust="spacingAndGlyphs" x="0" y="0">40</text>
<text class="lb" transform="translate(40.9 501.6) rotate(-90)" font-size="16" text-anchor="middle" textLength="16.6" lengthAdjust="spacingAndGlyphs" x="0" y="0">50</text>
<text class="lb" transform="translate(23.4 570.75) rotate(-90)" font-size="16.6" text-anchor="middle" textLength="51" lengthAdjust="spacingAndGlyphs" x="0" y="0">Counts</text>
<text class="lb" x="44.9" y="658.9" font-size="17.5" textLength="15.8" lengthAdjust="spacingAndGlyphs">10</text>
<text class="lb" x="60.4" y="649.8" font-size="17" textLength="9" lengthAdjust="spacingAndGlyphs">0</text>
<text class="lb" x="91.9" y="658.95" font-size="17.5" textLength="15.8" lengthAdjust="spacingAndGlyphs">10</text>
<text class="lb" x="107.4" y="649.85" font-size="17" textLength="9" lengthAdjust="spacingAndGlyphs">1</text>
<text class="lb" x="135.65" y="659" font-size="17.5" textLength="15.8" lengthAdjust="spacingAndGlyphs">10</text>
<text class="lb" x="151.15" y="649.9" font-size="17" textLength="9" lengthAdjust="spacingAndGlyphs">2</text>
<text class="lb" x="179.9" y="659.05" font-size="17.5" textLength="15.8" lengthAdjust="spacingAndGlyphs">10</text>
<text class="lb" x="195.4" y="649.95" font-size="17" textLength="9" lengthAdjust="spacingAndGlyphs">3</text>
<text class="lb" x="223.5" y="659.09" font-size="17.5" textLength="15.8" lengthAdjust="spacingAndGlyphs">10</text>
<text class="lb" x="239" y="649.99" font-size="17" textLength="9" lengthAdjust="spacingAndGlyphs">4</text>
<text class="lb" x="120.6" y="677.19" font-size="17" textLength="45" lengthAdjust="spacingAndGlyphs">FL1-H</text>
</g>
<g>
<text class="ser" x="385" y="493.75" font-size="26.5" textLength="62" lengthAdjust="spacingAndGlyphs">CD86</text>
<path d="M328 635L328 632.98L329.2 632.98L329.2 634.6L330.4 634.6L330.4 633.15L331.6 633.15L331.6 634.13L332.8 634.13L332.8 631.86L334 631.86L334 634.47L335.2 634.47L335.2 632.7L336.4 632.7L336.4 633.11L337.6 633.11L337.6 632.8L338.8 632.8L338.8 632.08L340 632.08L340 633.95L341.2 633.95L341.2 626.35L342.4 626.35L342.4 624.87L343.6 624.87L343.6 625.39L344.8 625.39L344.8 624.79L346 624.79L346 624.08L347.2 624.08L347.2 621.06L348.4 621.06L348.4 618.25L349.6 618.25L349.6 615.99L350.8 615.99L350.8 615.28L352 615.28L352 611.19L353.2 611.19L353.2 609.65L354.4 609.65L354.4 608.22L355.6 608.22L355.6 606.09L356.8 606.09L356.8 604.43L358 604.43L358 604.68L359.2 604.68L359.2 602.69L360.4 602.69L360.4 598.76L361.6 598.76L361.6 593.09L362.8 593.09L362.8 586.86L364 586.86L364 583.71L365.2 583.71L365.2 581.57L366.4 581.57L366.4 576.71L367.6 576.71L367.6 575.11L368.8 575.11L368.8 577.28L370 577.28L370 571.67L371.2 571.67L371.2 573.47L372.4 573.47L372.4 570.81L373.6 570.81L373.6 567.5L374.8 567.5L374.8 561.82L376 561.82L376 567.96L377.2 567.96L377.2 574.36L378.4 574.36L378.4 580.35L379.6 580.35L379.6 582.79L380.8 582.79L380.8 583.09L382 583.09L382 585.81L383.2 585.81L383.2 587.54L384.4 587.54L384.4 589.97L385.6 589.97L385.6 592.87L386.8 592.87L386.8 595.96L388 595.96L388 599.97L389.2 599.97L389.2 603.71L390.4 603.71L390.4 605.44L391.6 605.44L391.6 608.01L392.8 608.01L392.8 608.02L394 608.02L394 611.48L395.2 611.48L395.2 613.44L396.4 613.44L396.4 614.3L397.6 614.3L397.6 612.65L398.8 612.65L398.8 612.84L400 612.84L400 611.39L401.2 611.39L401.2 613.69L402.4 613.69L402.4 613.62L403.6 613.62L403.6 613.23L404.8 613.23L404.8 610.32L406 610.32L406 610.92L407.2 610.92L407.2 611.95L408.4 611.95L408.4 611.48L409.6 611.48L409.6 609.32L410.8 609.32L410.8 609.96L412 609.96L412 608.94L413.2 608.94L413.2 606.51L414.4 606.51L414.4 605.02L415.6 605.02L415.6 610.42L416.8 610.42L416.8 615.1L418 615.1L418 614.25L419.2 614.25L419.2 615.06L420.4 615.06L420.4 619.27L421.6 619.27L421.6 615.34L422.8 615.34L422.8 612.64L424 612.64L424 611.59L425.2 611.59L425.2 615.32L426.4 615.32L426.4 615.85L427.6 615.85L427.6 613.53L428.8 613.53L428.8 613.74L430 613.74L430 612.84L431.2 612.84L431.2 610.21L432.4 610.21L432.4 610.57L433.6 610.57L433.6 614.36L434.8 614.36L434.8 618.12L436 618.12L436 620.64L437.2 620.64L437.2 622.12L438.4 622.12L438.4 622.38L439.6 622.38L439.6 622.34L440.8 622.34L440.8 623.49L442 623.49L442 624.3L443.2 624.3L443.2 624.37L444.4 624.37L444.4 624.9L445.6 624.9L445.6 626.06L446.8 626.06L446.8 628.01L448 628.01L448 627.8L449.2 627.8L449.2 628.86L450.4 628.86L450.4 629.88L451.6 629.88L451.6 630.62L452.8 630.62L452.8 633.79L454 633.79L454 633.14L455.2 633.14L455.2 634.58L456.4 634.58L456.4 634.6L457.6 634.6L457.6 634.56L458.8 634.56L458.8 634.6L460 634.6L460 634.6L461.2 634.6L461.2 633.38L462.4 633.38L462.4 634.6L463.6 634.6L463.6 633.4L464.8 633.4L464.8 633.76L466 633.76L466 634.45L467.2 634.45L467.2 633.79L468.4 633.79L468.4 632.55L469.6 632.55L469.6 633.23L470.8 633.23L470.8 634.6L472 634.6L472 635L473 635L473 635 Z" fill="#000" stroke="#000" stroke-width="0.8" stroke-linejoin="miter"/>
<path d="M328 613.02L328 613.02L329.25 613.02L329.25 620.47L330.5 620.47L330.5 618.76L331.75 618.76L331.75 614.48L333 614.48L333 609.94L334.25 609.94L334.25 604.34L335.5 604.34L335.5 599.11L336.75 599.11L336.75 593.38L338 593.38L338 585.1L339.25 585.1L339.25 575.18L340.5 575.18L340.5 563.47L341.75 563.47L341.75 560.8L343 560.8L343 559.5L344.25 559.5L344.25 558.01L345.5 558.01L345.5 553.94L346.75 553.94L346.75 551.43L348 551.43L348 548.2L349.25 548.2L349.25 544.81L350.5 544.81L350.5 543.86L351.75 543.86L351.75 546.29L353 546.29L353 548.5L354.25 548.5L354.25 540.89L355.5 540.89L355.5 534.28L356.75 534.28L356.75 529.77L358 529.77L358 537.12L359.25 537.12L359.25 543.15L360.5 543.15L360.5 552.17L361.75 552.17L361.75 563.13L363 563.13L363 580.86L364.25 580.86L364.25 635L364.5 635" fill="none" stroke="#000" stroke-width="2" stroke-linejoin="miter"/>
<path d="M324.5 591.96 L327.8 591.96 L328.2 635 L324.5 635 Z" fill="#000"/>
<path d="M324.5 501.5L507.4 500.4L507.9 636.3L324.5 635.1Z" fill="none" stroke="#000" stroke-width="2.1" stroke-linejoin="miter"/>
<path d="M316 635H324.5M319.7 629.62H324.5M319.7 624.24H324.5M319.7 618.86H324.5M319.7 613.48H324.5M316 608.1H324.5M319.7 602.72H324.5M319.7 597.34H324.5M319.7 591.96H324.5M319.7 586.58H324.5M316 581.2H324.5M319.7 575.82H324.5M319.7 570.44H324.5M319.7 565.06H324.5M319.7 559.68H324.5M316 554.3H324.5M319.7 548.92H324.5M319.7 543.54H324.5M319.7 538.16H324.5M319.7 532.78H324.5M316 527.4H324.5M319.7 522.02H324.5M319.7 516.64H324.5M319.7 511.26H324.5M319.7 505.88H324.5M316 500.5H324.5" stroke="#000" stroke-width="2.3" fill="none"/>
<path d="M338.3 635.19V639.39M346.38 635.24V639.44M352.1 635.28V639.48M356.55 635.31V639.51M360.18 635.33V639.53M363.25 635.35V639.55M365.91 635.37V639.57M368.25 635.39V639.59M384.15 635.49V639.69M392.23 635.54V639.74M397.95 635.58V639.78M402.4 635.61V639.81M406.03 635.63V639.83M409.1 635.65V639.85M411.76 635.67V639.87M414.1 635.69V639.89M430 635.79V639.99M438.08 635.84V640.04M443.8 635.88V640.08M448.25 635.91V640.11M451.88 635.93V640.13M454.95 635.95V640.15M457.61 635.97V640.17M459.95 635.99V640.19M475.85 636.09V640.29M483.93 636.14V640.34M489.65 636.18V640.38M494.1 636.21V640.41M497.73 636.23V640.43M500.8 636.25V640.45M503.46 636.27V640.47M505.8 636.29V640.49" stroke="#000" stroke-width="1.5" fill="none"/>
<path d="M324.5 635.1V642.3M370.35 635.4V642.6M416.2 635.7V642.9M462.05 636V643.2M507.9 636.3V643.5" stroke="#000" stroke-width="1.8" fill="none"/>
<text class="lb" transform="translate(310.4 633.6) rotate(-90)" font-size="16" text-anchor="middle" textLength="8.6" lengthAdjust="spacingAndGlyphs" x="0" y="0">0</text>
<text class="lb" transform="translate(310.4 607.7) rotate(-90)" font-size="16" text-anchor="middle" textLength="16.6" lengthAdjust="spacingAndGlyphs" x="0" y="0">10</text>
<text class="lb" transform="translate(310.4 580.8) rotate(-90)" font-size="16" text-anchor="middle" textLength="16.6" lengthAdjust="spacingAndGlyphs" x="0" y="0">20</text>
<text class="lb" transform="translate(310.4 553.9) rotate(-90)" font-size="16" text-anchor="middle" textLength="16.6" lengthAdjust="spacingAndGlyphs" x="0" y="0">30</text>
<text class="lb" transform="translate(310.4 527) rotate(-90)" font-size="16" text-anchor="middle" textLength="16.6" lengthAdjust="spacingAndGlyphs" x="0" y="0">40</text>
<text class="lb" transform="translate(310.4 501.1) rotate(-90)" font-size="16" text-anchor="middle" textLength="16.6" lengthAdjust="spacingAndGlyphs" x="0" y="0">50</text>
<text class="lb" transform="translate(292.9 570.75) rotate(-90)" font-size="16.6" text-anchor="middle" textLength="51" lengthAdjust="spacingAndGlyphs" x="0" y="0">Counts</text>
<text class="lb" x="314.9" y="659.39" font-size="17.5" textLength="15.8" lengthAdjust="spacingAndGlyphs">10</text>
<text class="lb" x="330.4" y="650.29" font-size="17" textLength="9" lengthAdjust="spacingAndGlyphs">0</text>
<text class="lb" x="361.9" y="659.7" font-size="17.5" textLength="15.8" lengthAdjust="spacingAndGlyphs">10</text>
<text class="lb" x="377.4" y="650.6" font-size="17" textLength="9" lengthAdjust="spacingAndGlyphs">1</text>
<text class="lb" x="405.65" y="659.99" font-size="17.5" textLength="15.8" lengthAdjust="spacingAndGlyphs">10</text>
<text class="lb" x="421.15" y="650.89" font-size="17" textLength="9" lengthAdjust="spacingAndGlyphs">2</text>
<text class="lb" x="449.9" y="660.28" font-size="17.5" textLength="15.8" lengthAdjust="spacingAndGlyphs">10</text>
<text class="lb" x="465.4" y="651.18" font-size="17" textLength="9" lengthAdjust="spacingAndGlyphs">3</text>
<text class="lb" x="493.5" y="660.56" font-size="17.5" textLength="15.8" lengthAdjust="spacingAndGlyphs">10</text>
<text class="lb" x="509" y="651.46" font-size="17" textLength="9" lengthAdjust="spacingAndGlyphs">4</text>
<text class="lb" x="390.6" y="677.47" font-size="17" textLength="45" lengthAdjust="spacingAndGlyphs">FL1-H</text>
</g>
<g>
<path d="M138 951.6L193 951.6L193 955L178.5 955L176.5 957.2L138 957.2Z" fill="#000"/><rect x="185.9" y="953" width="3.3" height="13" fill="#000"/>
<rect x="103.5" y="834.2" width="34.3" height="121.3" fill="#fff" stroke="#000" stroke-width="3.4"/>
<path d="M120 814.7V857" stroke="#000" stroke-width="3.3" fill="none"/>
<path d="M114 814.7H125.8M114 857H125.8" stroke="#000" stroke-width="3" fill="none"/>
<path d="M94.7 731.9V966.5" stroke="#000" stroke-width="3.8" fill="none"/>
<path d="M86.5 955.5H178" stroke="#000" stroke-width="3.6" fill="none"/>
<path d="M86.5 955.5H94.7M88.5 944.4H94.7M86.5 933.3H94.7M88.5 922.2H94.7M86.5 911.1H94.7M88.5 900H94.7M86.5 888.9H94.7M88.5 877.8H94.7M86.5 866.7H94.7M88.5 855.6H94.7M86.5 844.5H94.7M88.5 833.4H94.7M86.5 822.3H94.7M88.5 811.2H94.7M86.5 800.1H94.7M88.5 789H94.7M86.5 777.9H94.7M88.5 766.8H94.7M86.5 755.7H94.7M88.5 744.6H94.7M86.5 733.5H94.7" stroke="#000" stroke-width="3.1" fill="none"/>
</g>
<g>
<rect x="273" y="948.2" width="39.8" height="8.2" fill="#000"/><rect x="311" y="950.2" width="11.2" height="3.3" fill="#000"/><rect x="318.9" y="950.2" width="3.3" height="15.1" fill="#000"/>
<rect x="239.5" y="778.7" width="33.8" height="176" fill="#fff" stroke="#000" stroke-width="3.4"/>
<path d="M255.7 750.1V806.9" stroke="#000" stroke-width="3.3" fill="none"/>
<path d="M249.4 750.1H261.3M249.4 806.9H261.3" stroke="#000" stroke-width="3" fill="none"/>
<path d="M230.7 731.2V966" stroke="#000" stroke-width="3.8" fill="none"/>
<path d="M222.3 954.7H276" stroke="#000" stroke-width="3.6" fill="none"/>
<path d="M222.3 954.7H230.7M226.1 943.61H230.7M222.3 932.51H230.7M226.1 921.42H230.7M222.3 910.32H230.7M226.1 899.23H230.7M222.3 888.13H230.7M226.1 877.04H230.7M222.3 865.94H230.7M226.1 854.85H230.7M222.3 843.75H230.7M226.1 832.65H230.7M222.3 821.56H230.7M226.1 810.47H230.7M222.3 799.37H230.7M226.1 788.27H230.7M222.3 777.18H230.7M226.1 766.09H230.7M222.3 754.99H230.7M226.1 743.89H230.7M222.3 732.8H230.7" stroke="#000" stroke-width="3.1" fill="none"/>
</g>
<g>
<path d="M362 951.9L446 950.5L464.2 950L464.2 952.9L446 953.2L446 954.3L362 955.7Z" fill="#000"/><rect x="451.9" y="951" width="3.9" height="13.3" fill="#000"/>
<rect x="372.5" y="850.9" width="40.7" height="102.9" fill="#fff" stroke="#000" stroke-width="3.4"/>
<path d="M393.2 830.4V873.2" stroke="#000" stroke-width="3.3" fill="none"/>
<path d="M387 830.4H399M387 873.2H399" stroke="#000" stroke-width="3" fill="none"/>
<path d="M358.9 724.4V959.8" stroke="#000" stroke-width="3.8" fill="none"/>
<path d="M350.9 949.6H358.9M354.9 938.42H358.9M350.9 927.24H358.9M354.9 916.06H358.9M350.9 904.88H358.9M354.9 893.7H358.9M350.9 882.52H358.9M354.9 871.34H358.9M350.9 860.16H358.9M354.9 848.98H358.9M350.9 837.8H358.9M354.9 826.62H358.9M350.9 815.44H358.9M354.9 804.26H358.9M350.9 793.08H358.9M354.9 781.9H358.9M350.9 770.72H358.9M354.9 759.54H358.9M350.9 748.36H358.9M354.9 737.18H358.9M350.9 726H358.9" stroke="#000" stroke-width="3.1" fill="none"/>
</g>
<text class="ser" x="77.6" y="964.1" font-size="27" text-anchor="end" style="stroke-width:0.5px">0</text>
<text class="ser" x="80.5" y="918.4" font-size="27" text-anchor="end" style="stroke-width:0.5px">20</text>
<text class="ser" x="80.5" y="873.9" font-size="27" text-anchor="end" style="stroke-width:0.5px">40</text>
<text class="ser" x="80.5" y="829.4" font-size="27" text-anchor="end" style="stroke-width:0.5px">60</text>
<text class="ser" x="80.5" y="784.9" font-size="27" text-anchor="end" style="stroke-width:0.5px">80</text>
<text class="ser" x="85" y="740.9" font-size="27" text-anchor="end" style="stroke-width:0.5px">100</text>
<text class="ser" transform="translate(36.6 917.5) rotate(-90)" font-size="27.5" textLength="148" lengthAdjust="spacingAndGlyphs" x="0" y="0">Inhibition (%)</text>
</svg></body></html>
